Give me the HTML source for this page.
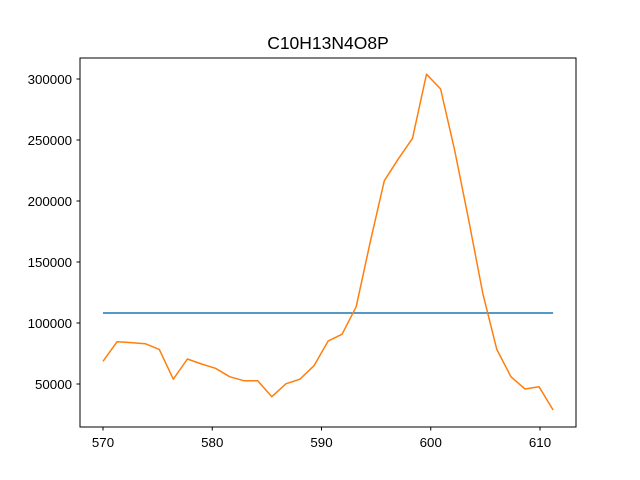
<!DOCTYPE html>
<html><head><meta charset="utf-8"><style>body{margin:0;background:#fff}svg{display:block;font-family:"Liberation Sans","DejaVu Sans",sans-serif}</style></head>
<body>
<svg id="chart" width="640" height="480" xmlns="http://www.w3.org/2000/svg">
<rect width="640" height="480" fill="#fff"/>
<text x="328" y="49" text-anchor="middle" font-size="17.5">C10H13N4O8P</text>
<g id="plot"></g>
<rect x="80" y="58" width="496" height="369" fill="none" stroke="#000" stroke-width="1"/>
</svg>
<script>
const xTicks = [570, 580, 590, 600, 610];
const yTicks = [50000, 100000, 150000, 200000, 250000, 300000];
const baselineValue = 108200;
const seriesY = [68600,84700,83900,83000,78400,53900,70500,66400,62900,56000,52700,52700,39600,50200,53900,65000,85200,90800,113400,166600,216600,234600,251400,303900,291800,241800,184400,124300,78400,56000,45900,47800,28700];
const xStart = 570, xEnd = 611.2;
function sx(v){return 103 + (v-570)*10.925;}
function sy(v){return 384 - (v-50000)*0.00122;}
const g = document.getElementById('plot');
const NS = 'http://www.w3.org/2000/svg';
function mk(t, a){const e=document.createElementNS(NS,t);for(const k in a)e.setAttribute(k,a[k]);g.appendChild(e);return e;}
xTicks.forEach(t=>{
  const l=mk('line',{x1:sx(t),x2:sx(t),y1:427,y2:430.5,stroke:'#000'});
  
  
  const tx=mk('text',{x:sx(t),y:447,'text-anchor':'middle','font-size':'13.3'});
  tx.textContent=t;
  
  
});
yTicks.forEach(t=>{
  const l=mk('line',{x1:76.5,x2:80,y1:sy(t),y2:sy(t),stroke:'#000'});
  
  
  const tx=mk('text',{x:72,y:sy(t)+5,'text-anchor':'end','font-size':'13.3'});
  tx.textContent=t;
  
  
});
const bl=mk('line',{x1:sx(xStart),x2:sx(xEnd),y1:sy(baselineValue),y2:sy(baselineValue),stroke:'#1f77b4','stroke-width':1.5});


const n=seriesY.length;
const pts=seriesY.map((v,i)=>sx(xStart+i*(xEnd-xStart)/(n-1)).toFixed(1)+','+sy(v).toFixed(1)).join(' ');
const pl=mk('polyline',{points:pts,fill:'none',stroke:'#ff7f0e','stroke-width':1.5,'stroke-linejoin':'round'});


</script>
</body></html>
